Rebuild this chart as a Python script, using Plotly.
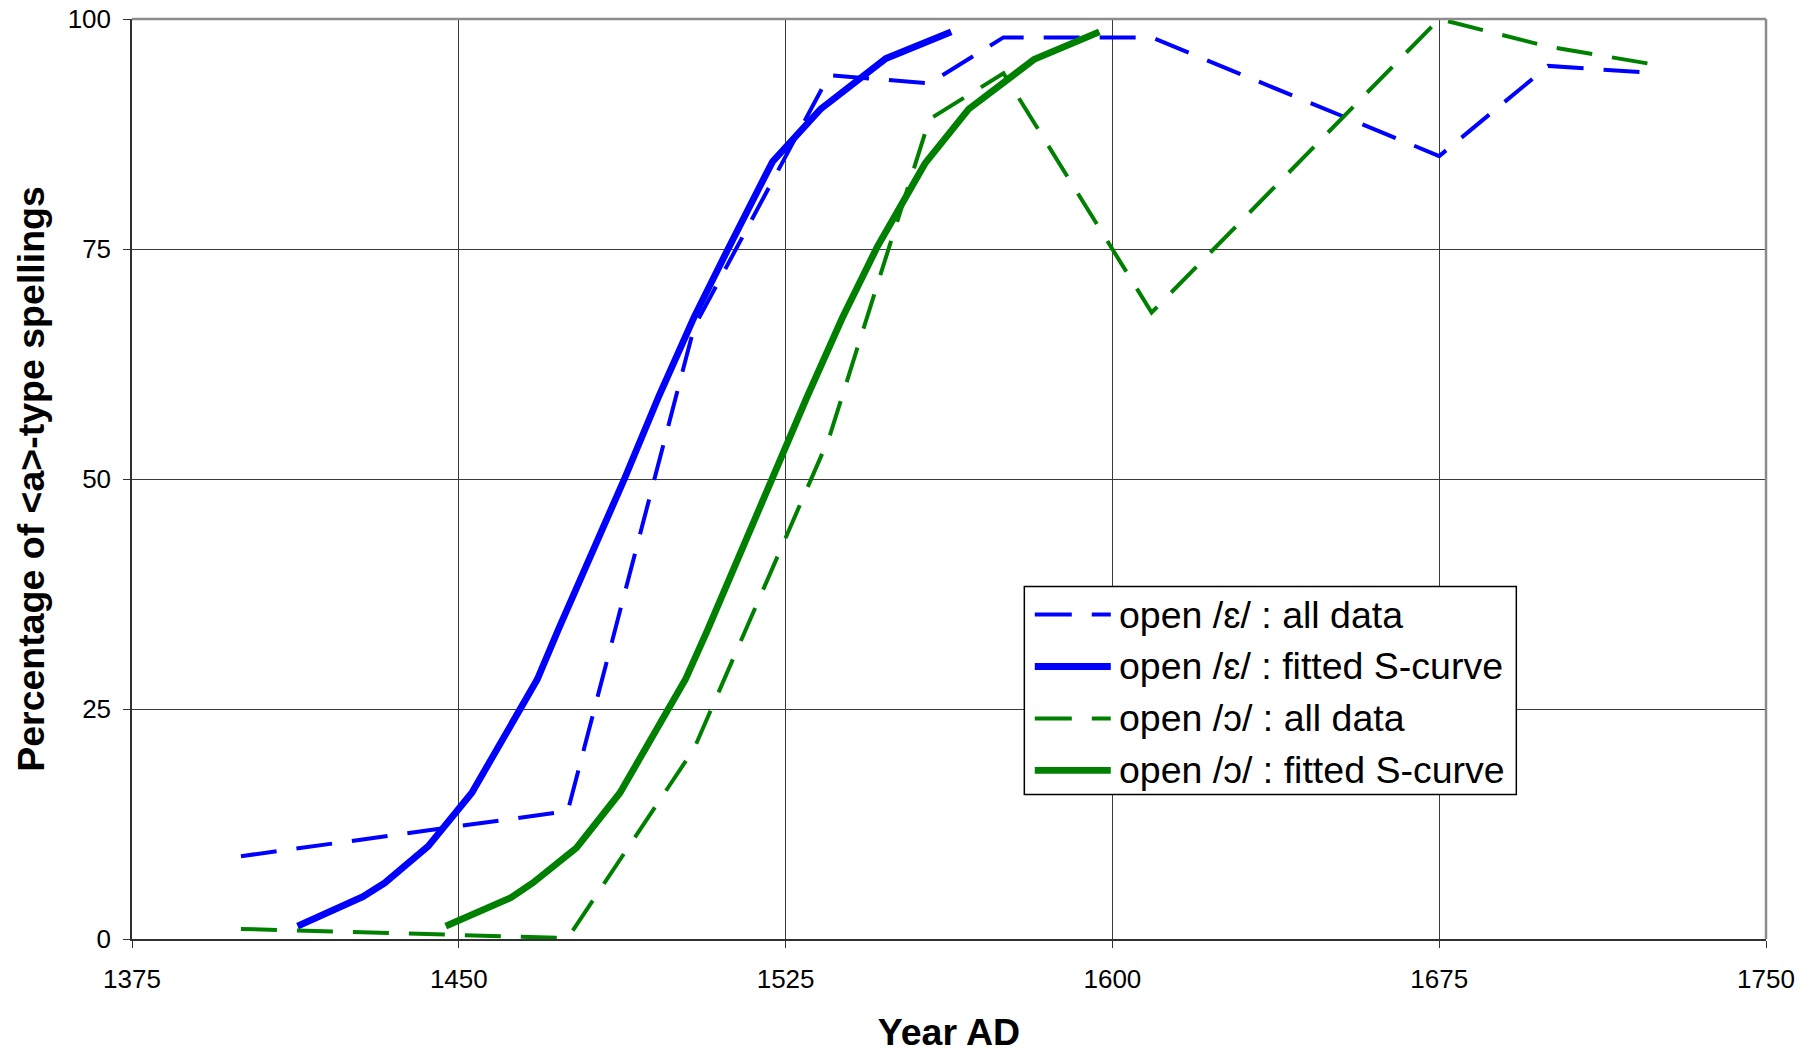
import plotly.graph_objects as go

# ---- data ----
years_all = [1400, 1475, 1504, 1535, 1558, 1575, 1609, 1675, 1700, 1725]
open_e_all = [9.0, 13.9, 66.5, 93.9, 93.0, 98.0, 98.0, 85.1, 94.9, 94.1]
open_o_all = [1.1, 0.1, 20.7, 54.5, 89.1, 94.1, 68.1, 100.0, 97.0, 95.0]

fit_e_years = [1413, 1428, 1433, 1443, 1453, 1463, 1468, 1473, 1480, 1488,
               1496, 1504, 1512, 1522, 1533, 1548, 1563]
fit_e_vals = [1.4, 4.6, 6.1, 10.1, 15.9, 23.9, 28.2, 33.8, 41.3, 50.0,
              59.1, 67.6, 75.2, 84.5, 90.2, 95.7, 98.6]

fit_o_years = [1447, 1462, 1467, 1477, 1487, 1497, 1502, 1507, 1514, 1522,
               1530, 1538, 1546, 1557, 1567, 1582, 1597]
fit_o_vals = [1.4, 4.5, 6.1, 9.9, 15.9, 23.9, 28.2, 33.5, 41.3, 50.0,
              59.0, 67.5, 75.2, 84.3, 90.2, 95.6, 98.6]

x_ticks = [1375, 1450, 1525, 1600, 1675, 1750]
y_ticks = [0, 25, 50, 75, 100]

series_names = ["open /ɛ/ : all data", "open /ɛ/ : fitted S-curve",
                "open /ɔ/ : all data", "open /ɔ/ : fitted S-curve"]

BLUE = "#0000FF"
GREEN = "#008000"
FONT = "Arial, Liberation Sans, sans-serif"
DASH = "36px,20px"

fig = go.Figure()
fig.add_trace(go.Scatter(x=years_all, y=open_e_all, mode="lines", name=series_names[0],
                         line=dict(color=BLUE, width=4, dash=DASH)))
fig.add_trace(go.Scatter(x=fit_e_years, y=fit_e_vals, mode="lines", name=series_names[1],
                         line=dict(color=BLUE, width=6.8)))
fig.add_trace(go.Scatter(x=years_all, y=open_o_all, mode="lines", name=series_names[2],
                         line=dict(color=GREEN, width=4, dash=DASH)))
fig.add_trace(go.Scatter(x=fit_o_years, y=fit_o_vals, mode="lines", name=series_names[3],
                         line=dict(color=GREEN, width=6.8)))

axis_common = dict(showgrid=True, gridcolor="#3a3a3a", gridwidth=1,
                   showline=True, linecolor="#303030", linewidth=1.5,
                   ticks="outside", ticklen=7, tickcolor="#303030", tickwidth=1.2,
                   zeroline=False,
                   tickfont=dict(family=FONT, size=26, color="black"))

fig.update_xaxes(range=[1375, 1750], tickvals=x_ticks, ticklabelstandoff=9,
                 title=dict(text="<b>Year AD</b>", font=dict(family=FONT, size=37.5, color="black"),
                            standoff=26),
                 **axis_common)
fig.update_yaxes(range=[0, 100], tickvals=y_ticks, ticklabelstandoff=7,
                 title=dict(text="<b>Percentage of &lt;a&gt;-type spellings</b>",
                            font=dict(family=FONT, size=37.5, color="black"),
                            standoff=12),
                 **axis_common)

shapes = [
    # top and right plot border (grey)
    dict(type="line", xref="paper", yref="paper", x0=0, x1=1, y0=1, y1=1,
         line=dict(color="#8c8c8c", width=2.5)),
    dict(type="line", xref="paper", yref="paper", x0=1, x1=1, y0=0, y1=1,
         line=dict(color="#8c8c8c", width=2.5)),
    # legend box
    dict(type="rect", xref="paper", yref="paper", x0=0.5461, x1=0.8472, y0=0.1571, y1=0.3832,
         line=dict(color="black", width=1.5), fillcolor="white"),
]
annotations = []
row_y = [0.3527, 0.2962, 0.2397, 0.1832]
sym_styles = [(BLUE, 4, "37px,20px"), (BLUE, 6.8, "solid"),
              (GREEN, 4, "37px,20px"), (GREEN, 6.8, "solid")]
for ry, (col, w, dsh), name in zip(row_y, sym_styles, series_names):
    shapes.append(dict(type="line", xref="paper", yref="paper",
                       x0=0.5525, x1=0.5990, y0=ry, y1=ry,
                       line=dict(color=col, width=w, dash=dsh)))
    annotations.append(dict(xref="paper", yref="paper", x=0.6030, y=ry, text=name,
                            showarrow=False, xanchor="left", yanchor="middle",
                            font=dict(family=FONT, size=37.5, color="black")))

fig.update_layout(
    width=1809, height=1053,
    margin=dict(l=132, r=43, t=19, b=114, autoexpand=False),
    plot_bgcolor="white", paper_bgcolor="white",
    showlegend=False,
    shapes=shapes, annotations=annotations,
)

fig.write_html("out.html", config={"displayModeBar": False},
               post_script="document.body.style.margin='0';document.body.style.overflow='hidden';")
